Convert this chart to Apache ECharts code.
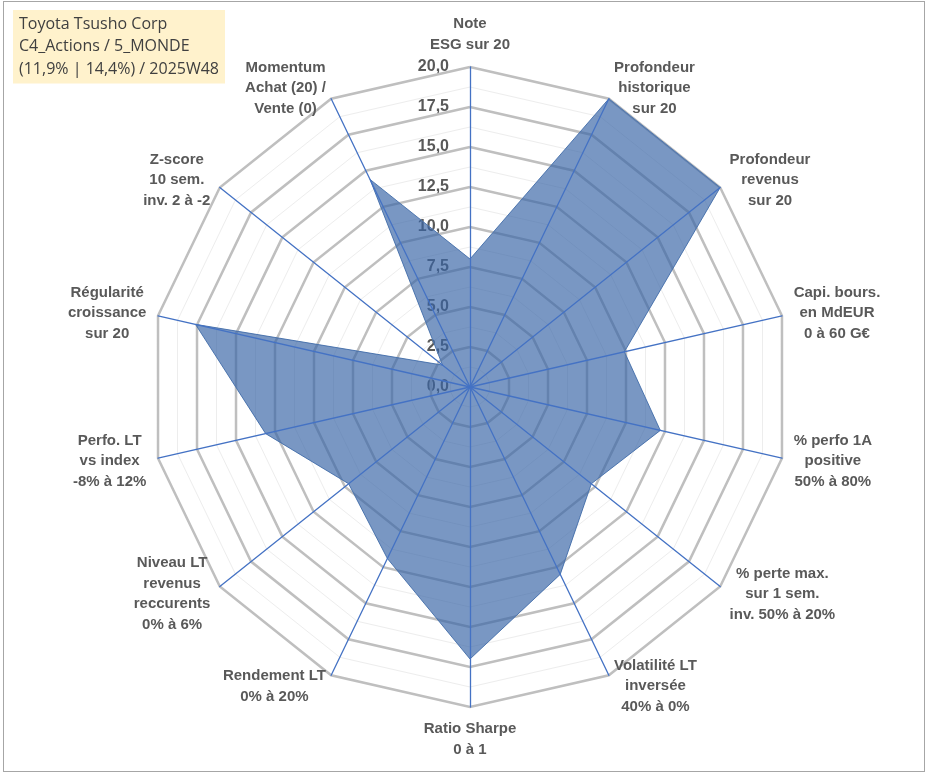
<!DOCTYPE html>
<html>
<head>
<meta charset="utf-8">
<script src="https://cdn.jsdelivr.net/npm/echarts@6/dist/echarts.min.js"></script>
<style>
  html, body { margin: 0; padding: 0; background: #fff; }
  #chart { position: absolute; left: 0; top: 0; width: 933px; height: 776px; }
  #frame { position: absolute; left: 3px; top: 1px; width: 920px; height: 769px;
           border: 1.5px solid #a6a6a6; pointer-events: none; }
</style>
</head>
<body>
<div id="chart"></div>
<div id="frame"></div>
<script>
// axes, clockwise from the top
const axisNames = [
  'Note\nESG sur 20',
  'Profondeur\nhistorique\nsur 20',
  'Profondeur\nrevenus\nsur 20',
  'Capi. bours.\nen MdEUR\n0 à 60 G€',
  '% perfo 1A\npositive\n50% à 80%',
  '% perte max.\nsur 1 sem.\ninv. 50% à 20%',
  'Volatilité LT\ninversée\n40% à 0%',
  'Ratio Sharpe\n0 à 1',
  'Rendement LT\n0% à 20%',
  'Niveau LT\nrevenus\nreccurents\n0% à 6%',
  'Perfo. LT\nvs index\n-8% à 12%',
  'Régularité\ncroissance\nsur 20',
  'Z-score\n10 sem.\ninv. 2 à -2',
  'Momentum\nAchat (20) /\nVente (0)'
];
const scores = [8.0, 20, 20, 9.9, 12.2, 9.7, 13.0, 17.0, 11.9, 9.7, 13.1, 17.6, 2.2, 14.4];
const scaleMin = 0;
const scaleMax = 20;
const scaleStep = 2.5;
const titleLines = ['Toyota Tsusho Corp', 'C4_Actions / 5_MONDE', '(11,9% | 14,4%) / 2025W48'];

// echarts lays radar axes out counter-clockwise, so keep the first and reverse the rest
const order = [0].concat(axisNames.map((_, i) => i).slice(1).reverse());
const indicators = order.map(i => ({ name: axisNames[i], min: scaleMin, max: scaleMax }));
const seriesValues = order.map(i => scores[i]);

const CX = 470, CY = 387, R = 320;
const textGrey = '#595959';

const chart = echarts.init(document.getElementById('chart'));

const baseRadar = {
  center: [CX, CY],
  radius: R,
  startAngle: 90,
  shape: 'polygon',
  indicator: indicators,
  splitArea: { show: false },
  axisTick: { show: false },
  axisLabel: { show: false }
};

chart.setOption({
  backgroundColor: '#fff',
  animation: false,
  title: {
    text: titleLines.join('\n'),
    left: 13,
    top: 10,
    padding: [3, 6],
    backgroundColor: '#FFF2CC',
    textStyle: {
      fontFamily: 'Open Sans',
      fontWeight: 'normal',
      fontSize: 16,
      lineHeight: 22.5,
      color: '#404040'
    }
  },
  // straight scale used only for the tick labels along the top axis
  grid: { left: CX, top: CY - R, width: 1, height: R, outerBoundsMode: 'none' },
  xAxis: { type: 'value', show: false },
  yAxis: {
    type: 'value',
    min: scaleMin,
    max: scaleMax,
    interval: scaleStep,
    axisLine: { show: false },
    axisTick: { show: false },
    splitLine: { show: false },
    axisLabel: {
      margin: 21,
      fontFamily: 'Liberation Sans',
      fontWeight: 'bold',
      fontSize: 16,
      color: textGrey,
      formatter: v => v.toFixed(1).replace('.', ',')
    }
  },
  radar: [
    Object.assign({}, baseRadar, {
      z: 1,
      splitNumber: 8,
      splitLine: { lineStyle: { color: '#bfbfbf', width: 2.5 } },
      axisLine: { show: false },
      axisNameGap: 12,
      axisName: {
        show: true,
        formatter: name => name.split('\n').map(l => '{c|' + l + '}').join('\n'),
        rich: {
          c: {
            align: 'center',
            fontFamily: 'Liberation Sans',
            fontWeight: 'bold',
            fontSize: 15,
            lineHeight: 20.5,
            color: textGrey
          }
        }
      }
    }),
    Object.assign({}, baseRadar, {
      z: 0,
      splitNumber: 16,
      splitLine: { lineStyle: { color: '#ededed', width: 1 } },
      axisLine: { show: false },
      axisName: { show: false }
    }),
    Object.assign({}, baseRadar, {
      z: 5,
      splitNumber: 8,
      splitLine: { show: false },
      axisLine: { lineStyle: { color: '#4472C4', width: 1.3 } },
      axisName: { show: false }
    })
  ],
  series: [{
    type: 'radar',
    radarIndex: 0,
    z: 2,
    symbol: 'none',
    lineStyle: { color: '#5a80b4', width: 1 },
    areaStyle: { color: '#3764a5', opacity: 0.67 },
    data: [{ value: seriesValues, name: titleLines[0] }]
  }]
});
</script>
</body>
</html>
